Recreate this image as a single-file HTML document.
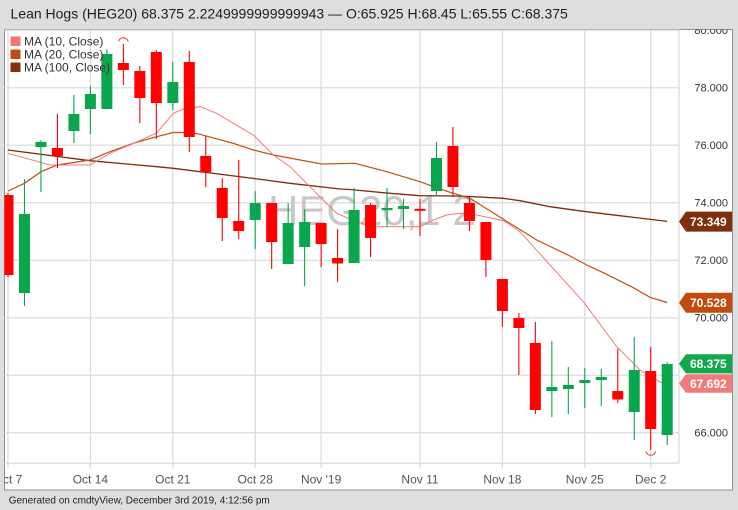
<!DOCTYPE html>
<html><head><meta charset="utf-8"><style>
html,body{margin:0;padding:0;background:#dcdee0;}
svg{display:block;}
text{font-family:"Liberation Sans",Arial,sans-serif;}
</style></head><body>
<svg width="738" height="510" viewBox="0 0 738 510" xmlns="http://www.w3.org/2000/svg">
<defs>
<clipPath id="plot"><rect x="4.5" y="29.5" width="674.5" height="434"/></clipPath>
<clipPath id="panel"><rect x="4.5" y="29.5" width="728" height="460"/></clipPath>
</defs>
<rect x="0" y="0" width="738" height="510" fill="#dcdee0"/>
<text x="10.5" y="18.3" font-size="14" fill="#1e1e1e">Lean Hogs (HEG20) 68.375 2.2249999999999943 — O:65.925 H:68.45 L:65.55 C:68.375</text>
<rect x="4.5" y="29.5" width="728" height="460.5" fill="#ffffff" stroke="#8e9093" stroke-width="1"/>
<g clip-path="url(#panel)">
<g stroke="#e2e2e2" stroke-width="1.5">
<line x1="4.5" y1="30.2" x2="679" y2="30.2"/>
<line x1="4.5" y1="87.7" x2="679" y2="87.7"/>
<line x1="4.5" y1="145.2" x2="679" y2="145.2"/>
<line x1="4.5" y1="202.7" x2="679" y2="202.7"/>
<line x1="4.5" y1="260.2" x2="679" y2="260.2"/>
<line x1="4.5" y1="317.7" x2="679" y2="317.7"/>
<line x1="4.5" y1="375.2" x2="679" y2="375.2"/>
<line x1="4.5" y1="432.7" x2="679" y2="432.7"/>
<line x1="4.5" y1="463.3" x2="679" y2="463.3"/>
</g>
<g stroke="#dcdcdc" stroke-width="1.3">
<line x1="8" y1="29.5" x2="8" y2="468"/>
<line x1="90.4" y1="29.5" x2="90.4" y2="468"/>
<line x1="172.8" y1="29.5" x2="172.8" y2="468"/>
<line x1="255.2" y1="29.5" x2="255.2" y2="468"/>
<line x1="321.1" y1="29.5" x2="321.1" y2="468"/>
<line x1="420" y1="29.5" x2="420" y2="468"/>
<line x1="502.4" y1="29.5" x2="502.4" y2="468"/>
<line x1="584.8" y1="29.5" x2="584.8" y2="468"/>
<line x1="650.7" y1="29.5" x2="650.7" y2="468"/>
<line x1="679" y1="29.5" x2="679" y2="463.3"/>
</g>
<g font-size="11" fill="#333" text-anchor="end">
<text x="728" y="34">80.000</text>
<text x="728" y="91.6">78.000</text>
<text x="728" y="149.1">76.000</text>
<text x="728" y="206.6">74.000</text>
<text x="728" y="264.1">72.000</text>
<text x="728" y="321.6">70.000</text>
<text x="728" y="436.6">66.000</text>
</g>
<g font-size="12" fill="#555" text-anchor="middle">
<text x="8" y="483.3">Oct 7</text>
<text x="90.4" y="483.3">Oct 14</text>
<text x="172.8" y="483.3">Oct 21</text>
<text x="255.2" y="483.3">Oct 28</text>
<text x="321.1" y="483.3">Nov '19</text>
<text x="420" y="483.3">Nov 11</text>
<text x="502.4" y="483.3">Nov 18</text>
<text x="584.8" y="483.3">Nov 25</text>
<text x="650.7" y="483.3">Dec 2</text>
</g>
</g>
<g clip-path="url(#plot)">
<text x="268" y="225" font-size="42" fill="#c8c8c8">HEG20,1 2</text>
<polyline fill="none" stroke="#7e2c0a" stroke-width="1.3" points="8,150 90,160.7 156.7,166.7 173.3,168.3 250,178 290,183.3 340,189 350,189.5 390,193.3 420,195.7 453.3,196 470,196.5 503.3,198.3 520,200.7 550,206.7 583.3,211.3 616.7,215.3 667.2,221.4"/>
<polyline fill="none" stroke="#c2510f" stroke-width="1.2" points="8,191 24.5,183.3 41,171.7 57.4,165 90,160 110,151.7 133.3,143.3 156.7,136.7 173.3,132.5 189,132.5 200,134.3 233.3,143.3 253.3,150 273.3,155 321.7,164 355,163.3 386.7,171.7 420,181.7 440,189 453.3,193.3 470,198.3 503.3,219.3 536.7,240 570,256 586.7,265 603.3,272.7 633.3,287.7 650,297.3 667.2,302.5"/>
<polyline fill="none" stroke="#ee7c7c" stroke-width="1" points="8,153.3 50,165 90,165 110,153.3 133.3,143.5 156.7,133 173.3,113.3 183.3,109 200,106.7 216.7,113.3 233.3,123.3 253.3,135 273.3,155 290,166.7 306.7,183.3 321,198 336.7,213.3 350,219 366.7,225 380,226.7 420,226.7 433.3,220 446.7,215 460,213.3 473.3,214.3 503.3,220.7 520,231.7 550,265 583.3,301.7 616.7,346.7 640,370 660,382 667.2,384"/>
<g>
<g stroke="#f00" stroke-width="1.1" fill="#f00">
<line x1="8" y1="193" x2="8" y2="277"/><rect x="2.5" y="195" width="11" height="80" stroke="none"/>
<line x1="57.44" y1="114" x2="57.44" y2="168"/><rect x="51.94" y="148" width="11" height="8" stroke="none"/>
<line x1="123.36" y1="44" x2="123.36" y2="85"/><rect x="117.86" y="63" width="11" height="7" stroke="none"/>
<line x1="139.84" y1="66" x2="139.84" y2="123"/><rect x="134.34" y="71" width="11" height="27" stroke="none"/>
<line x1="156.32" y1="50" x2="156.32" y2="139"/><rect x="150.82" y="52" width="11" height="51" stroke="none"/>
<line x1="189.28" y1="51" x2="189.28" y2="152"/><rect x="183.78" y="62" width="11" height="75" stroke="none"/>
<line x1="205.76" y1="136" x2="205.76" y2="187"/><rect x="200.26" y="156" width="11" height="16" stroke="none"/>
<line x1="222.24" y1="178" x2="222.24" y2="241"/><rect x="216.74" y="188" width="11" height="30" stroke="none"/>
<line x1="238.72" y1="160" x2="238.72" y2="239"/><rect x="233.22" y="221" width="11" height="10" stroke="none"/>
<line x1="271.68" y1="203" x2="271.68" y2="269"/><rect x="266.18" y="203" width="11" height="39" stroke="none"/>
<line x1="321.12" y1="223" x2="321.12" y2="267"/><rect x="315.62" y="223" width="11" height="21" stroke="none"/>
<line x1="337.6" y1="229" x2="337.6" y2="282"/><rect x="332.1" y="258" width="11" height="5.5" stroke="none"/>
<line x1="370.56" y1="203" x2="370.56" y2="257"/><rect x="365.06" y="205" width="11" height="33" stroke="none"/>
<line x1="420" y1="199" x2="420" y2="236"/><rect x="414.5" y="208.8" width="11" height="2" stroke="none"/>
<line x1="452.96" y1="127" x2="452.96" y2="197"/><rect x="447.46" y="146" width="11" height="41" stroke="none"/>
<line x1="469.44" y1="197" x2="469.44" y2="231"/><rect x="463.94" y="203" width="11" height="18" stroke="none"/>
<line x1="485.92" y1="222" x2="485.92" y2="277"/><rect x="480.42" y="222" width="11" height="38" stroke="none"/>
<line x1="502.4" y1="279" x2="502.4" y2="327"/><rect x="496.9" y="279" width="11" height="32" stroke="none"/>
<line x1="518.88" y1="313" x2="518.88" y2="375"/><rect x="513.38" y="318" width="11" height="10" stroke="none"/>
<line x1="535.36" y1="322" x2="535.36" y2="414"/><rect x="529.86" y="343" width="11" height="67" stroke="none"/>
<line x1="617.76" y1="349" x2="617.76" y2="403"/><rect x="612.26" y="391" width="11" height="8.5" stroke="none"/>
<line x1="650.72" y1="347" x2="650.72" y2="450"/><rect x="645.22" y="371" width="11" height="58" stroke="none"/>
</g>
<g stroke="#0aa64e" stroke-width="1.1" fill="#0aa64e">
<line x1="24.48" y1="179" x2="24.48" y2="306"/><rect x="18.98" y="214" width="11" height="79" stroke="none"/>
<line x1="40.96" y1="140" x2="40.96" y2="192"/><rect x="35.46" y="142" width="11" height="5" stroke="none"/>
<line x1="73.92" y1="95" x2="73.92" y2="143"/><rect x="68.42" y="114" width="11" height="17" stroke="none"/>
<line x1="90.4" y1="86" x2="90.4" y2="134"/><rect x="84.9" y="94" width="11" height="15" stroke="none"/>
<line x1="106.88" y1="49" x2="106.88" y2="109"/><rect x="101.38" y="54" width="11" height="55" stroke="none"/>
<line x1="172.8" y1="62" x2="172.8" y2="110"/><rect x="167.3" y="82" width="11" height="21" stroke="none"/>
<line x1="255.2" y1="191" x2="255.2" y2="249"/><rect x="249.7" y="203" width="11" height="17" stroke="none"/>
<line x1="288.16" y1="203" x2="288.16" y2="264"/><rect x="282.66" y="223" width="11" height="41" stroke="none"/>
<line x1="304.64" y1="209" x2="304.64" y2="286"/><rect x="299.14" y="222" width="11" height="25" stroke="none"/>
<line x1="354.08" y1="188" x2="354.08" y2="263"/><rect x="348.58" y="210" width="11" height="53" stroke="none"/>
<line x1="387.04" y1="188" x2="387.04" y2="227"/><rect x="381.54" y="208" width="11" height="2.2" stroke="none"/>
<line x1="403.52" y1="199" x2="403.52" y2="229"/><rect x="398.02" y="206" width="11" height="3" stroke="none"/>
<line x1="436.48" y1="142" x2="436.48" y2="196"/><rect x="430.98" y="158" width="11" height="33" stroke="none"/>
<line x1="551.84" y1="341" x2="551.84" y2="417"/><rect x="546.34" y="387" width="11" height="4" stroke="none"/>
<line x1="568.32" y1="367" x2="568.32" y2="414"/><rect x="562.82" y="385" width="11" height="4" stroke="none"/>
<line x1="584.8" y1="368" x2="584.8" y2="408"/><rect x="579.3" y="380" width="11" height="3" stroke="none"/>
<line x1="601.28" y1="369" x2="601.28" y2="406"/><rect x="595.78" y="377" width="11" height="3" stroke="none"/>
<line x1="634.24" y1="337" x2="634.24" y2="440"/><rect x="628.74" y="370" width="11" height="42" stroke="none"/>
<line x1="667.2" y1="362" x2="667.2" y2="445"/><rect x="661.7" y="364" width="11" height="71" stroke="none"/>
</g>
</g>
<path d="M118.5,41.5 A5,5 0 0 1 128.2,41.5" fill="none" stroke="#e23a3a" stroke-width="1"/>
<path d="M645.9,451.5 A5,5 0 0 0 655.6,451.5" fill="none" stroke="#e23a3a" stroke-width="1"/>
</g>
<rect x="10.5" y="36.5" width="10" height="9.5" fill="#f27878"/>
<rect x="10.5" y="49.5" width="10" height="9.5" fill="#c64a0c"/>
<rect x="10.5" y="62.5" width="10" height="9.5" fill="#84300c"/>
<g font-size="12" fill="#333">
<text x="24" y="45.5">MA (10, Close)</text>
<text x="24" y="58.5">MA (20, Close)</text>
<text x="24" y="71.5">MA (100, Close)</text>
</g>
<g font-size="12" font-weight="bold" fill="#fff">
<path d="M679,221.6 L686,211.6 L732,211.6 L732,231.6 L686,231.6 Z" fill="#7f2f0b"/>
<text x="690" y="226">73.349</text>
<path d="M679,302.7 L686,292.7 L732,292.7 L732,312.7 L686,312.7 Z" fill="#c24b0c"/>
<text x="690" y="307.1">70.528</text>
<path d="M679,363.8 L686,354.2 L732,354.2 L732,373.4 L686,373.4 Z" fill="#12a84b"/>
<text x="690" y="368.2">68.375</text>
<path d="M679,383.5 L686,374.3 L732,374.3 L732,392.7 L686,392.7 Z" fill="#f27a7a"/>
<text x="690" y="387.9">67.692</text>
</g>
<text x="8.7" y="503.5" font-size="10" fill="#222">Generated on cmdtyView, December 3rd 2019, 4:12:56 pm</text>
</svg>
</body></html>
